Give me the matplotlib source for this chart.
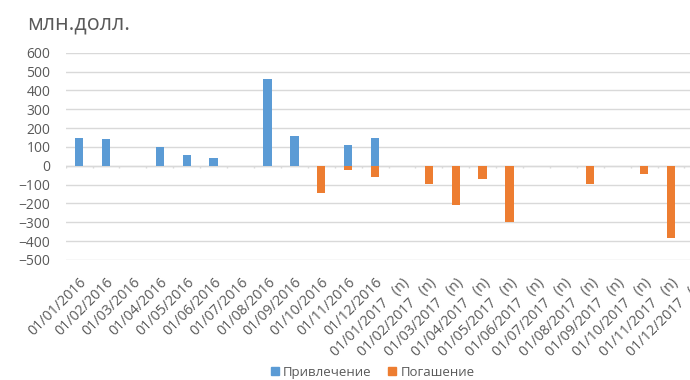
import numpy as np
import matplotlib.pyplot as plt
from matplotlib.patches import Patch

months = ['01/01/2016', '01/02/2016', '01/03/2016', '01/04/2016', '01/05/2016', '01/06/2016',
          '01/07/2016', '01/08/2016', '01/09/2016', '01/10/2016', '01/11/2016', '01/12/2016']
months += ['01/%02d/2017   (n)' % m for m in range(1, 13)]

privlechenie = [148, 142, 0, 99, 55, 39, 0, 460, 159, 0, 110, 149,
                0, 0, 0, 0, 0, 0, 0, 0, 0, 0, 0, 0]
pogashenie = [0, 0, 0, 0, 0, 0, 0, 0, 0, -143, -25, -62,
              0, -99, -207, -72, -299, 0, 0, -99, 0, -44, -385, 0]

blue = '#5B9BD5'
orange = '#ED7D31'
txt = '#595959'

plt.rcParams['font.family'] = ['Open Sans', 'DejaVu Sans']

fig = plt.figure(figsize=(6.9, 3.8), dpi=100)
ax = fig.add_axes([0.0952, 0.316, 0.9357, 0.545])

x = np.arange(len(months))
ax.bar(x, privlechenie, width=0.31, color=blue, zorder=3)
ax.bar(x, pogashenie, width=0.31, color=orange, zorder=3)

ax.set_xlim(-0.5, len(months) - 0.5)
ax.set_ylim(-500, 600)
ax.set_yticks(np.arange(-500, 601, 100))
ax.yaxis.grid(True, color='#D9D9D9', linewidth=1, zorder=0)
ax.axhline(0, color='#D9D9D9', linewidth=1, zorder=2)
ax.vlines(np.arange(len(months) + 1) - 0.5, -12, 0, color='#D9D9D9', linewidth=1, zorder=2)

for s in ax.spines.values():
    s.set_visible(False)
ax.tick_params(axis='both', length=0, colors=txt)
ax.tick_params(axis='y', labelsize=10, pad=11)
ax.tick_params(axis='x', pad=11)
ax.set_xticks(x)
ax.set_xticklabels(months, rotation=45, ha='right', rotation_mode='anchor', fontsize=10.3)

fig.text(0.039, 0.922, 'млн.долл.', fontsize=15.5, color=txt)

handles = [Patch(color=blue, label='Привлечение'), Patch(color=orange, label='Погашение')]
fig.legend(handles=handles, loc='center', bbox_to_anchor=(0.54, 0.02), ncol=2,
           frameon=False, fontsize=9.5, handlelength=0.6, handleheight=0.6,
           handletextpad=0.3, columnspacing=1.3, labelcolor=txt)

fig.savefig('out.png')
